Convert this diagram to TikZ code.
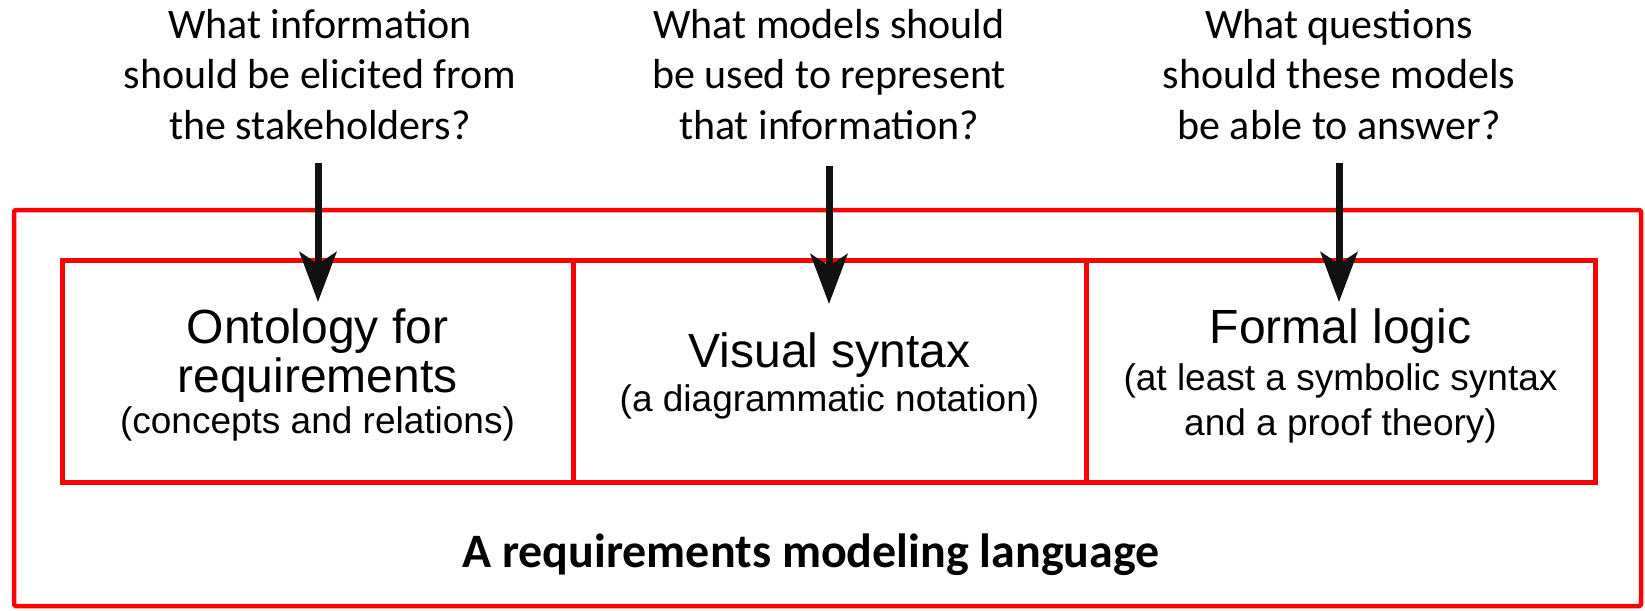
\documentclass[tikz,border=0pt]{standalone}
\usepackage{fontspec}
\setmainfont{Liberation Sans}
\newfontfamily\qfont{Carlito}
\usetikzlibrary{arrows.meta}
\definecolor{boxred}{RGB}{255,0,0}
\definecolor{arrowblack}{RGB}{17,17,17}
\begin{document}
\begin{tikzpicture}[x=1pt,y=-1pt,
  outerframe/.style={draw=boxred, line width=4.5pt, rounded corners=1.5pt},
  cell/.style={draw=boxred, line width=5pt, minimum height=222pt, inner sep=0pt},
  question/.style={align=center, inner sep=0pt, anchor=base, font=\qfont\fontsize{42}{50.5}\selectfont},
  title/.style={align=center, inner sep=0pt, anchor=base, font=\fontsize{48}{49}\selectfont},
  subtitle/.style={align=center, inner sep=0pt, anchor=base, font=\fontsize{37}{44.5}\selectfont},
  bottomlabel/.style={inner sep=0pt, anchor=base, font=\qfont\bfseries\fontsize{48}{50}\selectfont},
  downarrow/.style={draw=arrowblack, line width=7pt, -{Stealth[length=50pt, width=37pt, inset=12pt]}}
]
\useasboundingbox (0,0) rectangle (1645,610);
\fill[white] (0,0) rectangle (1645,610);

% outer frame
\node[outerframe, minimum width=1627pt, minimum height=396pt, inner sep=0pt] (outer) at (827.5,408) {};

% inner cells
\node[cell, minimum width=511pt] (b1) at (317.5,371) {};
\node[cell, minimum width=513pt] (b2) at (829.5,371) {};
\node[cell, minimum width=509pt] (b3) at (1340.5,371) {};

% questions (anchor base = baseline of last line)
\node[question] (q1) at (320,139) {What information\\should be elicited from\\the stakeholders?};
\node[question] (q2) at (829,139) {What models should\\be used to represent\\that information?};
\node[question] (q3) at (1339,139) {What questions\\should these models\\be able to answer?};

% box texts
\node[title] (t1) at (317.5,392) {Ontology for\\requirements};
\node[subtitle] (s1) at (317.5,433) {(concepts and relations)};
\node[title] (t2) at (829.5,367) {Visual syntax};
\node[subtitle] (s2) at (829.5,411) {(a diagrammatic notation)};
\node[title] (t3) at (1340.5,343) {Formal logic};
\node[subtitle] (s3) at (1340.5,435) {(at least a symbolic syntax\\and a proof theory)};

\node[bottomlabel] (lang) at (811,567) {A requirements modeling language};

% arrows
\coordinate (a1s) at (318,163);
\coordinate (a1e) at (318,302);
\coordinate (a2s) at (829,166);
\coordinate (a2e) at (829,304);
\coordinate (a3s) at (1339,163);
\coordinate (a3e) at (1339,302);
\draw[downarrow] (a1s) -- (a1e);
\draw[downarrow] (a2s) -- (a2e);
\draw[downarrow] (a3s) -- (a3e);
\end{tikzpicture}
\end{document}
